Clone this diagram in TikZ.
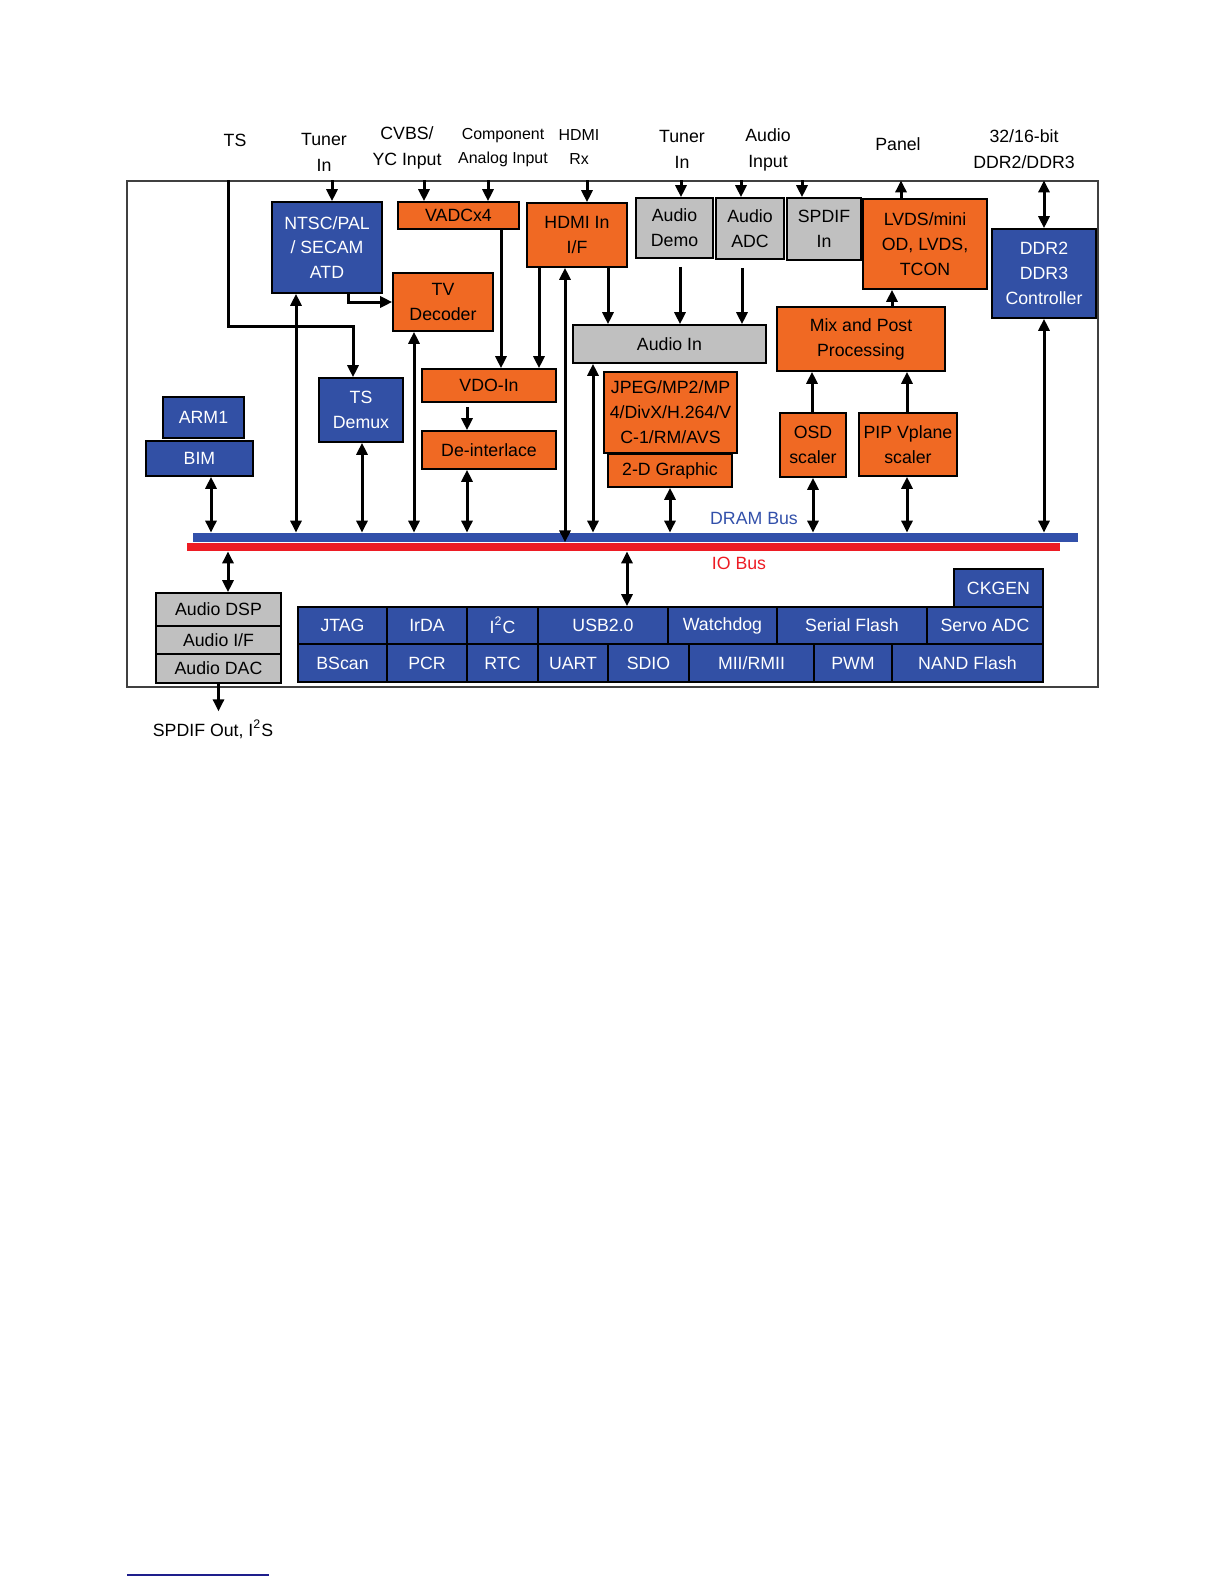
\documentclass[tikz,border=0pt]{standalone}
\usepackage{fontspec}
\setmainfont{Liberation Sans}
\usetikzlibrary{arrows.meta,positioning,calc}
\definecolor{boxBlue}{RGB}{50,80,165}
\definecolor{boxOrange}{RGB}{240,105,35}
\definecolor{boxGrey}{RGB}{192,192,192}
\definecolor{busBlue}{RGB}{50,80,170}
\definecolor{busRed}{RGB}{237,28,36}
\definecolor{noteBlue}{RGB}{30,30,140}

\begin{document}
\begin{tikzpicture}[x=0.5bp,y=-0.5bp,
    bx/.style n args={4}{minimum width={(#3-#1)*0.5bp}, minimum height={(#4-#2)*0.5bp},
      at={({(#1+#3)/2},{(#2+#4)/2})}},
    blk/.style={draw=black, line width=0.8bp, inner sep=0pt, align=center, font=\fontsize{8.9}{12.5}\selectfont},
    blu/.style={blk, fill=boxBlue, text=white},
    org/.style={blk, fill=boxOrange},
    gry/.style={blk, fill=boxGrey},
    bus/.style={inner sep=0pt},
    lbl/.style={align=center, inner sep=0pt, font=\fontsize{8.9}{13}\selectfont},
    slbl/.style={lbl, font=\fontsize{8}{12}\selectfont},
    arr/.style={line width=1.5bp, -{Triangle[length=6bp,width=5.5bp]}},
    darr/.style={line width=1.5bp, {Triangle[length=6bp,width=5.5bp]}-{Triangle[length=6bp,width=5.5bp]}}]
    \useasboundingbox (0,0) rectangle (1224,1584);
    % Chip outline
    \node[draw=black!75, line width=0.6bp, inner sep=0pt, bx={127}{181}{1098}{687}] (chip) {};
    % Outside labels
    \node[lbl] (lTS) at (235,140) {TS};
    \node[lbl] (lTuner) at (324,152) {Tuner\\In};
    \node[lbl] (lCvbs) at (407,148) {CVBS/\\YC Input};
    \node[slbl] (lComp) at (503,148) {Component\\Analog Input};
    \node[slbl] (lHdmi) at (579,147) {HDMI\\Rx};
    \node[lbl] (lTunerB) at (682,149) {Tuner\\In};
    \node[lbl] (lAudio) at (768,150) {Audio\\Input};
    \node[lbl] (lPanel) at (898,144) {Panel};
    \node[lbl] (lDdr) at (1024,149) {32/16-bit\\DDR2/DDR3};
    \node[lbl] (lSpdif) at (213,729) {SPDIF Out, I\textsuperscript{2}S};
    % Video path
    \node[blu, bx={272}{202}{382}{293}] (ntsc) {NTSC/PAL\\/ SECAM\\ATD};
    \node[org, bx={398}{202}{519}{229}] (vadc) {VADCx4};
    \node[org, bx={527}{203}{627}{267}] (hdmi) {HDMI In\\I/F};
    \node[org, bx={393}{273}{493}{331}] (tvdec) {TV\\Decoder};
    \node[blu, bx={319}{378}{403}{442}] (tsdemux) {TS\\Demux};
    \node[org, bx={422}{369}{556}{402}] (vdo) {VDO-In};
    \node[org, bx={422}{431}{556}{469}] (deint) {De-interlace};
    \node[org, bx={604}{372}{737}{453}] (jpeg) {JPEG/MP2/MP\\4/DivX/H.264/V\\C-1/RM/AVS};
    \node[org, bx={608}{454}{732}{487}] (gfx) {2-D Graphic};
    % Audio path
    \node[gry, bx={636}{198}{713}{258}] (ademo) {Audio\\Demo};
    \node[gry, bx={716}{198}{784}{259}] (aadc) {Audio\\ADC};
    \node[gry, bx={787}{198}{861}{260}] (spdifin) {SPDIF\\In};
    \node[gry, bx={573}{325}{766}{363}] (ain) {Audio In};
    % Display path
    \node[org, bx={863}{199}{987}{289}] (lvds) {LVDS/mini\\OD, LVDS,\\TCON};
    \node[org, bx={777}{307}{945}{371}] (mix) {Mix and Post\\Processing};
    \node[org, bx={780}{413}{846}{477}] (osd) {OSD\\scaler};
    \node[org, bx={859}{413}{957}{476}] (pip) {PIP Vplane\\scaler};
    \node[blu, bx={992}{229}{1096}{318}] (ddr) {DDR2\\DDR3\\Controller};
    % CPU
    \node[blu, bx={163}{397}{244}{438}] (arm) {ARM1};
    \node[blu, bx={146}{441}{253}{476}] (bim) {BIM};
    % Buses
    \node[bus, fill=busBlue, bx={193}{533}{1078}{542}] (dram) {};
    \node[bus, fill=busRed, bx={187}{543}{1060}{551}] (iob) {};
    \node[lbl, text=busBlue] (lDram) at (754,518) {DRAM Bus};
    \node[lbl, text=busRed] (lIo) at (739,563) {IO Bus};
    % Audio out stack
    \node[gry, bx={156}{593}{281}{626}] (adsp) {Audio DSP};
    \node[gry, bx={156}{626}{281}{654}] (aif) {Audio I/F};
    \node[gry, bx={156}{654}{281}{683}] (adac) {Audio DAC};
    % Peripherals
    \node[blu, bx={954}{569}{1043}{607}] (ckgen) {CKGEN};
    \node[blu, bx={298}{607}{387}{644}] (jtag) {JTAG};
    \node[blu, bx={387}{607}{467}{644}] (irda) {IrDA};
    \node[blu, bx={467}{607}{538}{644}] (iic) {I\textsuperscript{2}C};
    \node[blu, bx={538}{607}{668}{644}] (usb) {USB2.0};
    \node[blu, bx={668}{607}{777}{644}] (wdog) {Watchdog};
    \node[blu, bx={777}{607}{927}{644}] (sflash) {Serial Flash};
    \node[blu, bx={927}{607}{1043}{644}] (servo) {Servo ADC};
    \node[blu, bx={298}{644}{387}{682}] (bscan) {BScan};
    \node[blu, bx={387}{644}{467}{682}] (pcr) {PCR};
    \node[blu, bx={467}{644}{538}{682}] (rtc) {RTC};
    \node[blu, bx={538}{644}{608}{682}] (uart) {UART};
    \node[blu, bx={608}{644}{689}{682}] (sdio) {SDIO};
    \node[blu, bx={689}{644}{814}{682}] (mii) {MII/RMII};
    \node[blu, bx={814}{644}{892}{682}] (pwm) {PWM};
    \node[blu, bx={892}{644}{1043}{682}] (nand) {NAND Flash};
    % Inputs from outside
    \draw[arr] (chip.north -| 228,0) -- (228,326) -| (tsdemux.north -| 353,0);
    \draw[arr] (chip.north -| 332,0) -- (ntsc.north -| 332,0);
    \draw[arr] (chip.north -| 424,0) -- (vadc.north -| 424,0);
    \draw[arr] (chip.north -| 488,0) -- (vadc.north -| 488,0);
    \draw[arr] (chip.north -| 587,0) -- (hdmi.north -| 587,0);
    \draw[arr] (chip.north -| 681,0) -- (ademo.north -| 681,0);
    \draw[arr] (chip.north -| 741,0) -- (aadc.north -| 741,0);
    \draw[arr] (chip.north -| 802,0) -- (spdifin.north -| 802,0);
    \draw[arr] (lvds.north -| 901,0) -- (chip.north -| 901,0);
    \draw[darr] (chip.north -| ddr.north) -- (ddr.north);
    % Internal paths
    \draw[arr] (ntsc.south -| 348,0) |- (tvdec.west);
    \draw[arr] (vadc.south -| 501,0) -- (vdo.north -| 501,0);
    \draw[arr] (hdmi.south -| 539,0) -- (vdo.north -| 539,0);
    \draw[arr] (hdmi.south -| 608,0) -- (ain.north -| 608,0);
    \draw[arr, shorten <=4bp] (ademo.south -| 680,0) -- (ain.north -| 680,0);
    \draw[arr, shorten <=4bp] (aadc.south -| 742,0) -- (ain.north -| 742,0);
    \draw[arr, shorten <=2bp] (vdo.south -| 467,0) -- (deint.north -| 467,0);
    \draw[arr] (mix.north -| 892,0) -- (lvds.south -| 892,0);
    \draw[arr] (osd.north -| 812,0) -- (mix.south -| 812,0);
    \draw[arr] (pip.north -| 907,0) -- (mix.south -| 907,0);
    % DRAM bus
    \draw[darr] (bim.south -| 211,0) -- (dram.north -| 211,0);
    \draw[darr] (ntsc.south -| 296,0) -- (dram.north -| 296,0);
    \draw[darr] (tsdemux.south -| 362,0) -- (dram.north -| 362,0);
    \draw[darr] (tvdec.south -| 414,0) -- (dram.north -| 414,0);
    \draw[darr] (deint.south -| 467,0) -- (dram.north -| 467,0);
    \draw[darr] (hdmi.south -| 565,0) -- (dram.south -| 565,0);
    \draw[darr] (ain.south -| 593,0) -- (dram.north -| 593,0);
    \draw[darr] (gfx.south -| 670,0) -- (dram.north -| 670,0);
    \draw[darr] (osd.south -| 813,0) -- (dram.north -| 813,0);
    \draw[darr] (pip.south -| 907,0) -- (dram.north -| 907,0);
    \draw[darr] (ddr.south -| 1044,0) -- (dram.north -| 1044,0);
    % IO bus
    \draw[darr] (iob.south -| 228,0) -- (adsp.north -| 228,0);
    \draw[darr] (iob.south -| 627,0) -- (usb.north -| 627,0);
    \draw[arr, shorten >=4bp] (adac.south) -- (adac.south |- lSpdif.north);
    % Footnote rule
    \draw[noteBlue, line width=1bp] (127,1575) -- (269,1575);
\end{tikzpicture}
\end{document}
